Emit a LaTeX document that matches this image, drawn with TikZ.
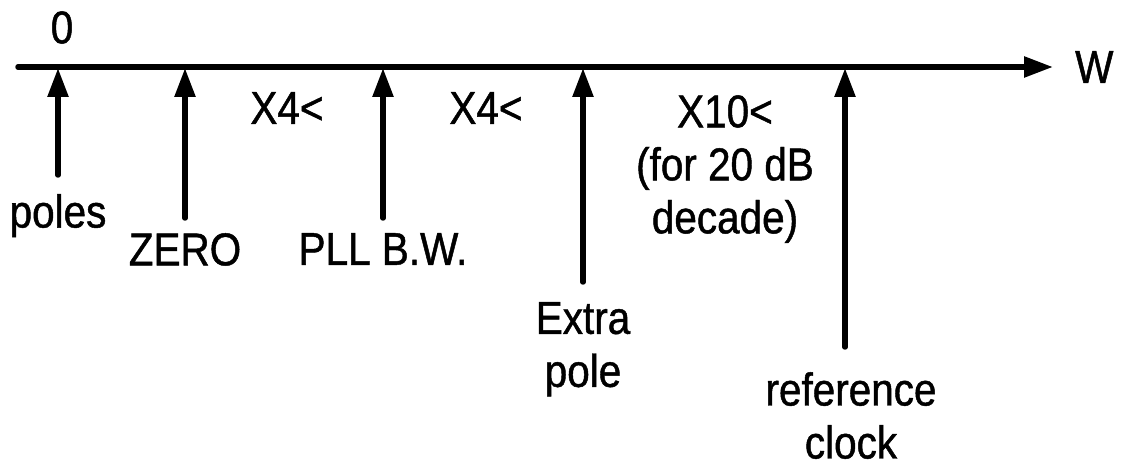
\documentclass[tikz,border=0pt]{standalone}
\usepackage{fontspec}
\setmainfont[FakeStretch=0.88,FakeBold=1]{Liberation Sans}
\usetikzlibrary{arrows.meta,positioning,calc}
\tikzset{
  eje/.style={line width=5.5pt,line cap=round,-{Triangle[length=29pt,width=20pt]}},
  marca/.style={eje},
  rot/.style={font=\fontsize{46}{53}\selectfont,align=center,inner sep=0pt},
}

\begin{document}
\begin{tikzpicture}[x=1pt,y=1pt,node distance=15pt]
\useasboundingbox (0,0) rectangle (1122,466);

\coordinate (ini) at (18,399);
\coordinate (fin) at (1053,399);
\coordinate (tpol) at (58,398);
\coordinate (bpol) at (58,291);
\coordinate (tzer) at (185,398);
\coordinate (bzer) at (185,248);
\coordinate (tpll) at (383,398);
\coordinate (bpll) at (383,248);
\coordinate (text) at (583,398);
\coordinate (bext) at (583,184);
\coordinate (tref) at (845,398);
\coordinate (bref) at (845,119);

\draw[eje] (ini) -- (fin);
\foreach \p in {pol,zer,pll,ext,ref}
  \draw[marca] (b\p) -- (t\p);

\node[rot,above=24pt of tpol,xshift=4pt] (cero) {0};
\node[rot,right=22pt of fin] (w) {W};
\node[rot,below=19pt of bpol] (polos) {poles};
\node[rot,below=15pt of bzer] (zero) {ZERO};
\node[rot,below=15pt of bpll] (pll) {PLL B.W.};
\node[rot,below=20pt of bext] (extra) {Extra\\pole};
\node[rot,below=25pt of bref,xshift=6pt] (reloj) {reference\\clock};
\node[rot,anchor=north] (f1) at (287,374) {X4<};
\node[rot,anchor=north] (f2) at (486,374) {X4<};
\node[rot,anchor=north] (f3) at (725,371) {X10<\\(for 20 dB\\decade)};

\end{tikzpicture}
\end{document}
